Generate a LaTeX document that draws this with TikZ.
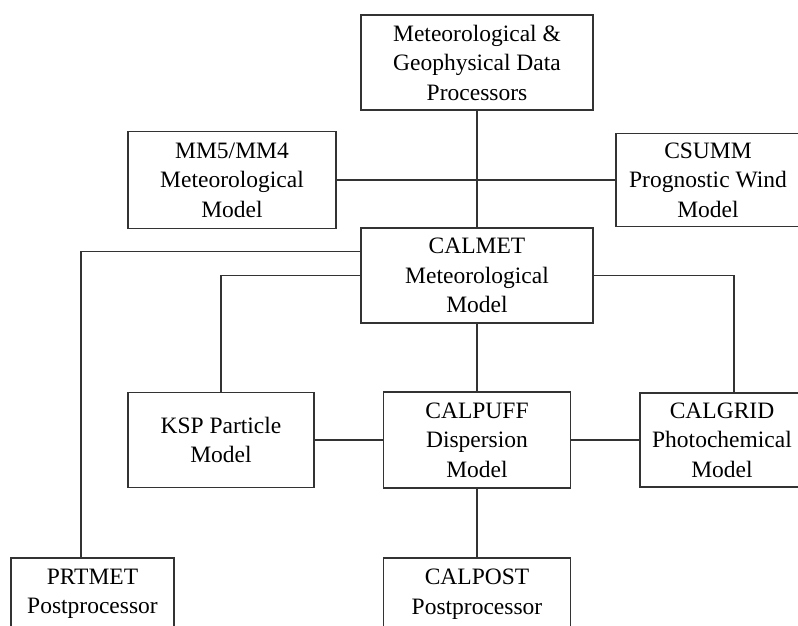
\documentclass[tikz,border=0pt]{standalone}
\usepackage{fontspec}
\setmainfont{Liberation Serif}

\begin{document}
\begin{tikzpicture}[x=1pt, y=-1pt, line width=1.2pt, draw=black!80,
    every node/.style={draw, rectangle, align=center, inner sep=0pt,
      font=\fontsize{23.5}{29.5}\selectfont}]
    \useasboundingbox (0,0) rectangle (798,625);
    \clip (0,0) rectangle (798,625);

    % preprocessors and prognostic models
    \node[minimum width=232, minimum height=95] (proc) at (477,62.5) {Meteorological \&\\Geophysical Data\\Processors};
    \node[minimum width=208, minimum height=97] (mm5) at (232,180) {MM5/MM4\\Meteorological\\Model};
    \node[minimum width=184, minimum height=93] (csumm) at (708,180) {CSUMM\\Prognostic Wind\\Model};

    % CALMET and the models it drives
    \node[minimum width=232, minimum height=95] (calmet) at (477,275.5) {CALMET\\Meteorological\\Model};
    \node[minimum width=186, minimum height=95] (ksp) at (221,440) {KSP Particle\\Model};
    \node[minimum width=187, minimum height=96] (calpuff) at (477,440) {CALPUFF\\Dispersion\\Model};
    \node[minimum width=164, minimum height=94] (calgrid) at (722,440) {CALGRID\\Photochemical\\Model};

    % postprocessors
    \node[minimum width=163, minimum height=72] (prtmet) at (92.5,594) {PRTMET\\Postprocessor};
    \node[minimum width=187, minimum height=72] (calpost) at (477,594) {CALPOST\\Postprocessor};

    \foreach \u/\v in {proc.south/calmet.north, mm5.east/csumm.west, calmet.south/calpuff.north,
        ksp.east/calpuff.west, calpuff.east/calgrid.west, calpuff.south/calpost.north}{
      \draw (\u) -- (\v);
    }
    \draw ([yshift=-24pt]calmet.north west) -| ([xshift=-11.5pt]prtmet.north);
    \draw (calmet.west) -| (ksp.north);
    \draw (calmet.east) -| ([xshift=12pt]calgrid.north);
  \end{tikzpicture}
\end{document}
